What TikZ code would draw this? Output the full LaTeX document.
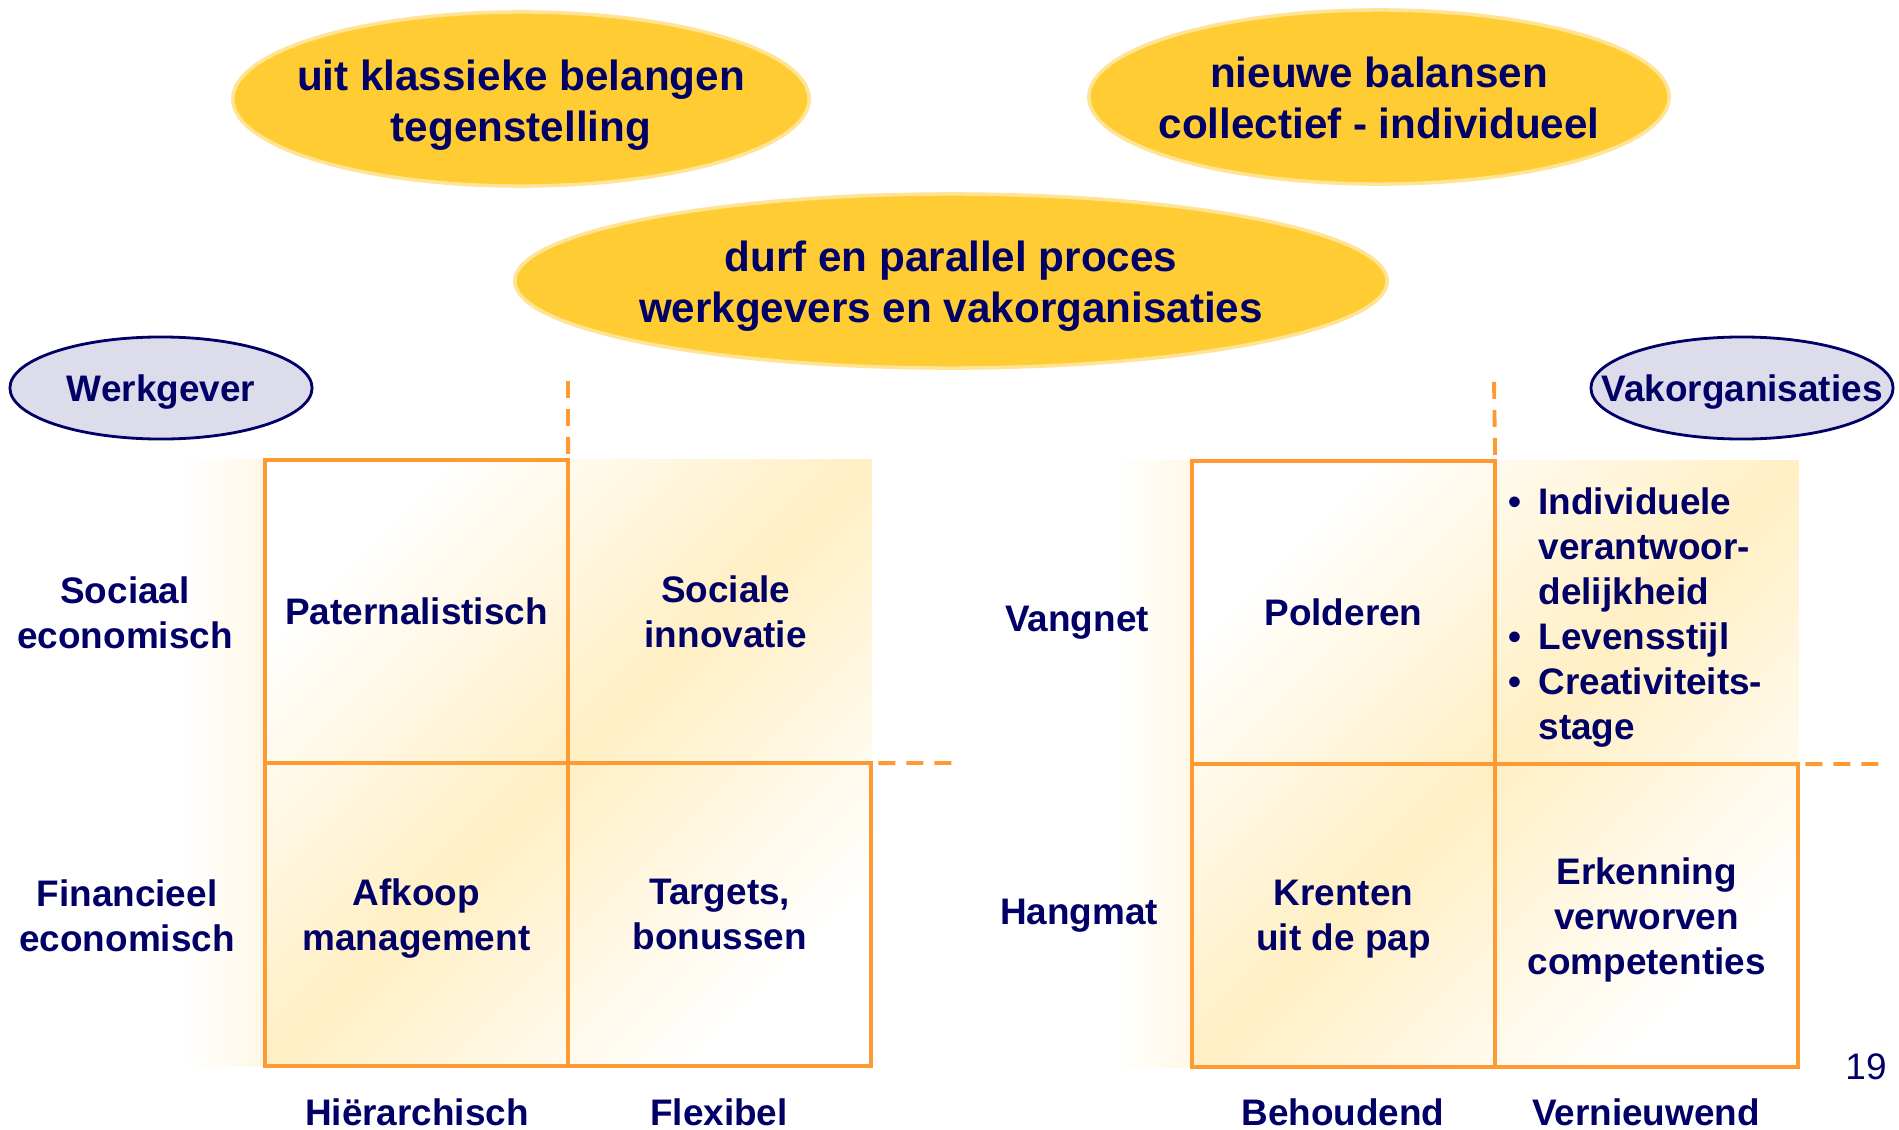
\documentclass[tikz,border=0pt]{standalone}
\usepackage{fontspec}
\setmainfont{Liberation Sans}
\usetikzlibrary{positioning, backgrounds}
\definecolor{navy}{RGB}{0,0,102}
\definecolor{gold}{RGB}{255,204,51}
\definecolor{goldrim}{RGB}{255,228,150}
\definecolor{lilac}{RGB}{220,220,235}
\definecolor{gridline}{RGB}{255,154,51}
\definecolor{cream}{RGB}{255,239,196}
\definecolor{creamfaint}{RGB}{255,248,230}
\tikzstyle{cell} = [draw=gridline, line width=1.1pt, rectangle,
    minimum width=3.03cm, minimum height=3.03cm, text depth=0pt,
    inner sep=0pt, outer sep=0pt, align=center]
\tikzstyle{cellopen} = [rectangle, minimum width=3.03cm, minimum height=3.03cm,
    text depth=0pt, inner sep=0pt, outer sep=0pt, align=center]
\tikzstyle{bubble} = [font=\fontsize{12}{14.5}\selectfont\bfseries, align=center]
\tikzstyle{bubblefill} = [fill=gold, draw=goldrim, line width=1pt]
\tikzstyle{partyfill} = [fill=lilac, draw=navy, line width=0.8pt]
\tikzstyle{axis} = [align=center, inner sep=1pt]
\tikzstyle{dashline} = [draw=gridline, line width=1.1pt,
    dash pattern=on 0.17cm off 0.11cm]
\newcommand{\listdot}{\makebox[0.3cm][l]{\textbullet}}
\newcommand{\listgap}{\makebox[0.3cm]{}}

\begin{document}
\begin{tikzpicture}[x=0.01cm, y=-0.01cm, text=navy,
    font=\fontsize{10.5}{12.8}\selectfont\bfseries]
        \useasboundingbox (0,0) rectangle (1899,1130);

        % bubbles
        \node[bubble] (klassiek) at (521,105) {uit klassieke belangen\\tegenstelling};
        \node[bubble] (balans) at (1379,98) {nieuwe balansen\\collectief - individueel};
        \node[bubble] (durf) at (951,286)
            {durf en parallel proces\\werkgevers en vakorganisaties};

        \node (wg) at (161,392) {Werkgever};
        \node (vo) at (1742,392) {Vakorganisaties};

        % werkgever grid
        \node[cell] (wtl) at (416.5,611.5) {Paternalistisch};
        \node[cell, below=0pt of wtl] (wbl) {Afkoop\\management};
        \node[cell, right=0pt of wbl] (wbr) {Targets,\\bonussen};
        \node[cellopen, above=0pt of wbr, xshift=0.06cm] (wtr) {Sociale\\innovatie};

        \node[axis] (wsoc) at (125,613) {Sociaal\\economisch};
        \node[axis] (wfin) at (127,916) {Financieel\\economisch};
        \node[axis] (whier) at (417,1112) {Hiërarchisch};
        \node[axis] (wflex) at (719,1112) {Flexibel};

        \coordinate (wup) at (568,381);
        \coordinate (wright) at (957,763);
        \draw[dashline] ([yshift=0.06cm]wtl.north east) -- (wup);
        \draw[dashline] ([xshift=0.07cm]wbr.north east) -- (wright);

        % vakorganisaties grid
        \node[cell] (vtl) at (1343.5,612.5) {Polderen};
        \node[cell, below=0pt of vtl] (vbl) {Krenten\\uit de pap};
        \node[cell, right=0pt of vbl] (vbr) {Erkenning\\verworven\\competenties};
        \node[cellopen, above=-0.05cm of vbr, text depth=, text width=2.76cm,
            align=left] (vtr)
            {\listdot Individuele\\\listgap verantwoor-\\\listgap delijkheid\\
             \listdot Levensstijl\\\listdot Creativiteits-\\\listgap stage};

        \node[axis] (vvang) at (1077,623) {Vangnet};
        \node[axis] (vhang) at (1079,916) {Hangmat};
        \node[axis] (vbeh) at (1343,1112) {Behoudend};
        \node[axis] (vver) at (1646,1112) {Vernieuwend};

        \coordinate (vup) at (1494,381);
        \coordinate (vright) at (1883,764);
        \draw[dashline] ([yshift=0.06cm]vtl.north east) -- (vup);
        \draw[dashline] ([xshift=0.07cm]vbr.north east) -- (vright);

        \node[font=\fontsize{10.5}{12.8}\selectfont] (page) at (1866,1067) {19};

        \begin{scope}[on background layer]
            \draw[bubblefill] ([yshift=0.06cm]klassiek.center)
                ellipse [x radius=2.88cm, y radius=0.87cm];
            \draw[bubblefill] ([yshift=0.01cm]balans.center)
                ellipse [x radius=2.9cm, y radius=0.87cm];
            \draw[bubblefill] ([yshift=0.05cm]durf.center)
                ellipse [x radius=4.36cm, y radius=0.87cm];
            \draw[partyfill] ([yshift=0.04cm]wg.center)
                ellipse [x radius=1.51cm, y radius=0.51cm];
            \draw[partyfill] ([yshift=0.04cm]vo.center)
                ellipse [x radius=1.51cm, y radius=0.51cm];

            \shade[left color=white, right color=creamfaint]
                ([xshift=-0.85cm]wtl.north west) rectangle (wbl.south west);
            \shade[top color=white, bottom color=white, middle color=cream,
                shading angle=45] (wtl.north west) rectangle (wbr.south east);
            \shade[left color=white, right color=creamfaint]
                ([xshift=-0.75cm]vtl.north west) rectangle (vbl.south west);
            \shade[top color=white, bottom color=white, middle color=cream,
                shading angle=45] (vtl.north west) rectangle (vbr.south east);
        \end{scope}
    \end{tikzpicture}
\end{document}
